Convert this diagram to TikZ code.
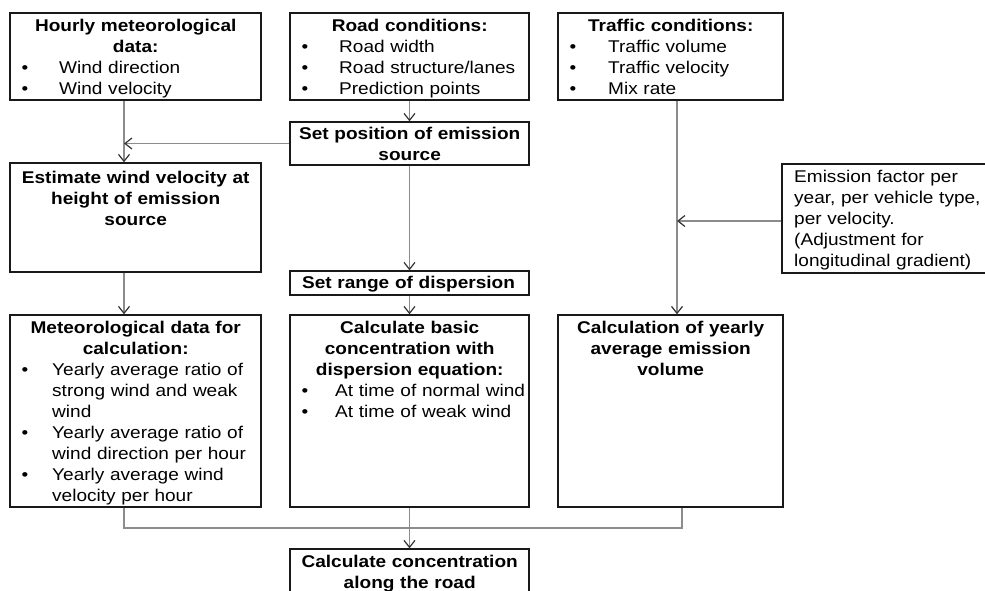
\documentclass[tikz,border=0pt]{standalone}
\usepackage{fontspec}
\setmainfont{Liberation Sans}[FakeStretch=1.12]
\usetikzlibrary{arrows.meta}
\newcommand{\bitem}[2]{\par{\raggedright\hangindent=#1\hangafter=1\noindent\makebox[#1][l]{\hspace{11.5pt}\textbullet}#2\par}}
\begin{document}
\begin{tikzpicture}[x=1pt,y=-1pt,
  box/.style={draw=black!90, line width=1.4pt, inner sep=0pt, fill=none},
  conn/.style={draw=black!45, line width=1.3pt},
  arr/.style={conn, -{Straight Barb[length=7pt,width=11pt,color=black!80,line width=1.2pt]}},
  txt/.style={anchor=base west, inner sep=0pt, font=\fontsize{17}{21}\selectfont}]
\useasboundingbox (0,0) rectangle (985,590);
% boxes
\node[box, minimum width=251pt, minimum height=87pt]  (B1)  at (135.5,56.5) {};
\node[box, minimum width=239pt, minimum height=87pt]  (B2)  at (409.5,56.5) {};
\node[box, minimum width=225pt, minimum height=87pt]  (B3)  at (670.5,56.5) {};
\node[box, minimum width=239pt, minimum height=43pt]  (B4)  at (409.5,143.5) {};
\node[box, minimum width=251pt, minimum height=109pt] (B5)  at (135.5,217.5) {};
\node[box, minimum width=218pt, minimum height=109pt] (B6)  at (891,218.5) {};
\node[box, minimum width=239pt, minimum height=24pt]  (B7)  at (409.5,283) {};
\node[box, minimum width=251pt, minimum height=192pt] (B8)  at (135.5,411) {};
\node[box, minimum width=239pt, minimum height=192pt] (B9)  at (409.5,411) {};
\node[box, minimum width=225pt, minimum height=192pt] (B10) at (670.5,411) {};
\node[box, minimum width=239pt, minimum height=71pt]  (B11) at (409.5,584.5) {};
% texts
\node[txt, text width=251pt, align=center] (T1) at (10,31)
  {{\bfseries Hourly meteorological\\data:}\bitem{49pt}{Wind direction}\bitem{49pt}{Wind velocity}};
\node[txt, text width=239pt, align=center] (T2) at (290,31)
  {{\bfseries Road conditions:}\bitem{49pt}{Road width}\bitem{49pt}{Road structure/lanes}\bitem{49pt}{Prediction points}};
\node[txt, text width=225pt, align=center] (T3) at (558,31)
  {{\bfseries Traffic conditions:}\bitem{50pt}{Traffic volume}\bitem{50pt}{Traffic velocity}\bitem{50pt}{Mix rate}};
\node[txt, text width=239pt, align=center] (T4) at (290,139)
  {\bfseries Set position of emission\\source};
\node[txt, text width=251pt, align=center] (T5) at (10,183)
  {\bfseries Estimate wind velocity at\\height of emission\\source};
\node[txt, text width=200pt, align=left] (T6) at (794,182)
  {Emission factor per\\year, per vehicle type,\\per velocity.\\(Adjustment for\\longitudinal gradient)};
\node[txt, text width=227pt, align=left] (T7) at (302,288)
  {\bfseries Set range of dispersion};
\node[txt, text width=251pt, align=center] (T8) at (10,333)
  {{\bfseries Meteorological data for\\calculation:}\bitem{42pt}{Yearly average ratio of\newline strong wind and weak\newline wind}\bitem{42pt}{Yearly average ratio of\newline wind direction per hour}\bitem{42pt}{Yearly average wind\newline velocity per hour}};
\node[txt, text width=239pt, align=center] (T9) at (290,333)
  {{\bfseries Calculate basic\\concentration with\\dispersion equation:}\bitem{45pt}{At time of normal wind}\bitem{45pt}{At time of weak wind}};
\node[txt, text width=225pt, align=center] (T10) at (558,333)
  {\bfseries Calculation of yearly\\average emission\\volume};
\node[txt, text width=239pt, align=center] (T11) at (290,567)
  {\bfseries Calculate concentration\\along the road};
% helper coordinates
\coordinate (xL) at (124,0);
\coordinate (xR) at (677,0);
\coordinate (xR2) at (682,0);
\coordinate (yBus) at (0,528);
\coordinate (yE) at (0,221);
% connectors
\draw[arr] (B1.south -| xL) -- (B5.north -| xL);
\draw[arr] (B4.west) -- (B4.west -| xL);
\draw[arr] (B2.south) -- (B4.north);
\draw[arr] (B4.south) -- (B7.north);
\draw[arr] (B7.south) -- (B9.north);
\draw[arr] (B5.south -| xL) -- (B8.north -| xL);
\draw[arr] (B3.south -| xR) -- (B10.north -| xR);
\draw[arr] (B6.west |- yE) -- (xR |- yE);
\draw[conn] (B8.south -| xL) -- (xL |- yBus) -- (xR2 |- yBus) -- (B10.south -| xR2);
\draw[arr] (B9.south) -- (B11.north);
\end{tikzpicture}
\end{document}
